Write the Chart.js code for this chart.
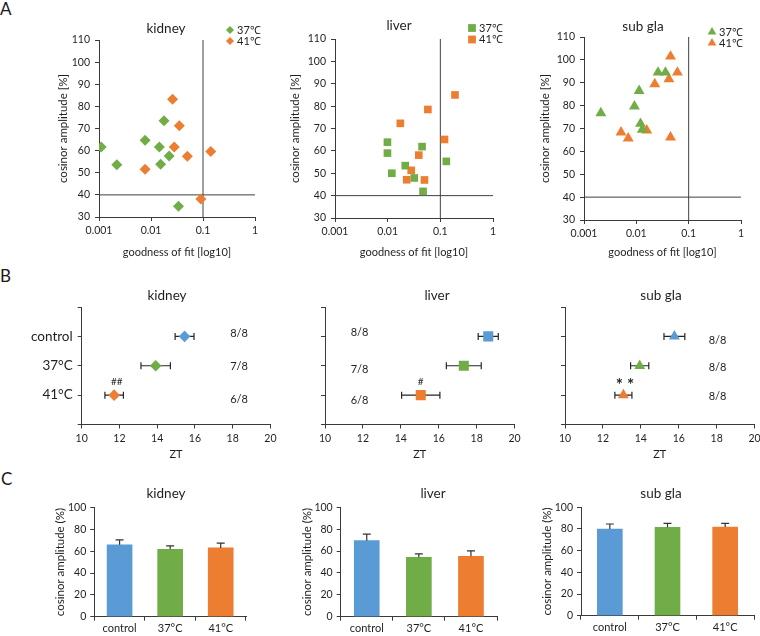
<!DOCTYPE html>
<html><head><meta charset="utf-8">
<script src="https://cdn.jsdelivr.net/npm/chart.js@4.4.1/dist/chart.umd.min.js"></script>
<style>
html,body{margin:0;padding:0;background:#fff;width:760px;height:636px;overflow:hidden;position:relative;font-family:Lato,"Open Sans",sans-serif;}
canvas{position:absolute;}
.lt{position:absolute;font-size:17px;line-height:17px;color:#1a1a1a;}
</style></head><body>
<div class="lt" style="left:0px;top:0px">A</div>
<div class="lt" style="left:0px;top:267px">B</div>
<div class="lt" style="left:1px;top:470px">C</div>
<script>
// ---------------- DATA ----------------
const fitTicks = [0.001, 0.01, 0.1, 1];
const fitCutoff = 0.1;
const ampCutoff = 40;
// Panel A: goodness of fit (x) and cosinor amplitude (y)
const kidneyFit37 = [0.0011, 0.0022, 0.0077, 0.0178, 0.0145, 0.0153, 0.0223, 0.0338];
const kidneyAmp37 = [61.6, 53.6, 64.7, 73.5, 61.6, 53.8, 57.6, 34.9];
const kidneyFit41 = [0.026, 0.035, 0.028, 0.050, 0.0077, 0.141, 0.091];
const kidneyAmp41 = [83.2, 71.2, 61.6, 57.5, 51.6, 59.6, 38.1];
const liverFit37 = [0.0099, 0.0099, 0.012, 0.0216, 0.032, 0.045, 0.047, 0.13];
const liverAmp37 = [63.9, 59.0, 50.0, 53.4, 47.9, 61.9, 41.9, 55.3];
const liverFit41 = [0.0174, 0.058, 0.19, 0.12, 0.039, 0.028, 0.023, 0.050];
const liverAmp41 = [72.3, 78.5, 85.0, 65.1, 58.1, 51.3, 47.1, 47.0];
const subFit37 = [0.0021, 0.0092, 0.0113, 0.012, 0.013, 0.026, 0.036];
const subAmp37 = [76.7, 79.7, 86.5, 72.1, 69.5, 94.5, 94.5];
const subFit41 = [0.045, 0.061, 0.042, 0.0225, 0.0051, 0.007, 0.0158, 0.045];
const subAmp41 = [101.5, 94.5, 91.6, 89.4, 68.3, 65.7, 69.2, 66.1];
const legendA = ['37\u2103', '41\u2103'];
// Panel B: peak phase (ZT) mean and SEM
const groups = ['control', '37\u00B0C', '41\u00B0C'];
const kidneyZT = [15.45, 13.92, 11.72];
const kidneyZTerr = [0.50, 0.78, 0.49];
const liverZT = [18.61, 17.32, 15.05];
const liverZTerr = [0.53, 0.92, 1.01];
const subZT = [15.77, 13.94, 13.08];
const subZTerr = [0.55, 0.48, 0.45];
const kidneyRatio = ['8/8', '7/8', '6/8'];
const liverRatio = ['8/8', '7/8', '6/8'];
const subRatio = ['8/8', '8/8', '8/8'];
// Panel C: cosinor amplitude (%) mean and SEM
const kidneyAmp = [65.8, 61.8, 63.0];
const kidneyAmpErr = [4.6, 3.1, 4.3];
const liverAmp = [69.5, 54.3, 55.2];
const liverAmpErr = [5.9, 3.1, 4.9];
const subAmp = [80.0, 81.5, 81.8];
const subAmpErr = [4.6, 3.7, 3.4];

// ---------------- STYLE ----------------
const BLUE = '#5B9BD5', GREEN = '#70AD47', ORANGE = '#ED7D31';
const TXT = '#1f1f1f', AXC = '#3a3a3a';
const groupColors = [BLUE, GREEN, ORANGE];
Chart.defaults.font.family = 'Lato, "Open Sans", sans-serif';
Chart.defaults.color = TXT;
Chart.defaults.animation = false;
Chart.defaults.events = [];
Chart.defaults.plugins.legend.display = false;
Chart.defaults.plugins.tooltip.enabled = false;

const DECOR = {};
function marker(ctx, style, x, y, r, color) {
  ctx.fillStyle = color; ctx.beginPath();
  if (style === 'rectRot') { ctx.moveTo(x, y - r); ctx.lineTo(x + r, y); ctx.lineTo(x, y + r); ctx.lineTo(x - r, y); }
  else if (style === 'rect') { const s = r * Math.SQRT1_2; ctx.rect(x - s, y - s, 2 * s, 2 * s); }
  else { ctx.moveTo(x, y - r); ctx.lineTo(x + r * 0.866, y + r / 2); ctx.lineTo(x - r * 0.866, y + r / 2); }
  ctx.closePath(); ctx.fill();
}
const decoPlugin = {
  id: 'deco',
  beforeDatasetsDraw(chart) {
    const d = DECOR[chart.canvas.id]; if (!d || !d.errX) return;
    const ctx = chart.ctx, xs = chart.scales.x, ys = chart.scales.y;
    const pts = chart.data.datasets[0].data;
    ctx.save(); ctx.strokeStyle = '#262626'; ctx.lineWidth = 1.2;
    pts.forEach((p, i) => {
      const e = d.errX[i];
      const xa = xs.getPixelForValue(p.x - e), xb = xs.getPixelForValue(p.x + e), y = ys.getPixelForValue(p.y);
      ctx.beginPath();
      ctx.moveTo(xa, y); ctx.lineTo(xb, y);
      ctx.moveTo(xa, y - 3.5); ctx.lineTo(xa, y + 3.5);
      ctx.moveTo(xb, y - 3.5); ctx.lineTo(xb, y + 3.5);
      ctx.stroke();
    });
    ctx.restore();
  },
  afterDatasetsDraw(chart) {
    const d = DECOR[chart.canvas.id]; if (!d || !d.errY) return;
    const ctx = chart.ctx, ys = chart.scales.y;
    const vals = chart.data.datasets[0].data;
    const meta = chart.getDatasetMeta(0);
    ctx.save(); ctx.strokeStyle = '#333'; ctx.lineWidth = 1.2;
    meta.data.forEach((bar, i) => {
      const yv = ys.getPixelForValue(vals[i]), ye = ys.getPixelForValue(vals[i] + d.errY[i]);
      ctx.beginPath();
      ctx.moveTo(bar.x, yv); ctx.lineTo(bar.x, ye);
      ctx.moveTo(bar.x - 4, ye); ctx.lineTo(bar.x + 4, ye);
      ctx.stroke();
    });
    ctx.restore();
  },
  afterDraw(chart) {
    const d = DECOR[chart.canvas.id]; if (!d) return;
    const ctx = chart.ctx, ox = d.off[0], oy = d.off[1];
    ctx.save();
    ctx.textBaseline = 'middle';
    (d.texts || []).forEach(t => {
      ctx.font = (t.weight || 'normal') + ' ' + t.size + 'px Lato, "Open Sans", sans-serif';
      ctx.fillStyle = TXT; ctx.textAlign = t.align || 'center';
      ctx.fillText(t.t, t.x - ox, t.y - oy);
    });
    (d.legend || []).forEach(l => {
      marker(ctx, l.style, l.x - ox, l.y - oy, l.r, l.color);
      ctx.font = '11px Lato, "Open Sans", sans-serif';
      ctx.fillStyle = TXT; ctx.textAlign = 'left';
      ctx.fillText(l.t, l.tx - ox, l.y - oy);
    });
    ctx.restore();
  }
};
Chart.register(decoPlugin);

function makeCanvas(id, rect) {
  const c = document.createElement('canvas');
  c.id = id; c.width = rect[2]; c.height = rect[3];
  c.style.left = rect[0] + 'px'; c.style.top = rect[1] + 'px';
  c.style.width = rect[2] + 'px'; c.style.height = rect[3] + 'px';
  document.body.appendChild(c);
  return c;
}
function pad(rect, area, yW, xH) {
  return {left: area[0] - rect[0] - yW, top: area[1] - rect[1], right: rect[0] + rect[2] - area[2], bottom: rect[1] + rect[3] - area[3] - xH};
}
function clean(o) {
  Object.keys(o).forEach(k => { if (o[k] === undefined) delete o[k]; });
  return o;
}
function axis(o) {
  const a = clean({
    type: o.type || 'linear', min: o.min, max: o.max,
    border: {display: true, color: AXC, width: 1},
    grid: {display: true, drawOnChartArea: false, drawTicks: true, tickLength: 4, color: AXC},
    ticks: clean({font: {size: o.fs}, color: TXT, padding: o.pad, stepSize: o.step, autoSkip: false, maxRotation: 0, minRotation: 0, callback: o.cb}),
    title: o.title ? {display: true, text: o.title, font: {size: o.tfs}, color: TXT, padding: {top: 0, bottom: 0}} : {display: false},
    afterFit: o.fit, afterBuildTicks: o.abt
  });
  if (o.reverse) a.reverse = true;
  if (o.type === 'category') { a.offset = true; a.grid.offset = true; }
  return a;
}
const zip = (xs, ys) => xs.map((x, i) => ({x, y: ys[i]}));

// ---------------- PANEL A ----------------
function panelA(id, rect, area, yW, xH, style, r, f37, a37, f41, a41, deco) {
  const c = makeCanvas(id, rect);
  DECOR[id] = Object.assign({off: [rect[0], rect[1]]}, deco);
  new Chart(c, {
    type: 'scatter',
    data: {datasets: [
      {label: legendA[0], data: zip(f37, a37), pointStyle: style, pointRadius: r, backgroundColor: GREEN, borderWidth: 0},
      {label: legendA[1], data: zip(f41, a41), pointStyle: style, pointRadius: r, backgroundColor: ORANGE, borderWidth: 0},
      {label: 'fit cutoff', data: [{x: fitCutoff, y: 30}, {x: fitCutoff, y: 110}], showLine: true, pointRadius: 0, borderColor: '#404040', borderWidth: 1},
      {label: 'amplitude cutoff', data: [{x: fitTicks[0], y: ampCutoff}, {x: fitTicks[3], y: ampCutoff}], showLine: true, pointRadius: 0, borderColor: '#404040', borderWidth: 1}
    ]},
    options: {
      responsive: false, devicePixelRatio: 1,
      layout: {padding: pad(rect, area, yW, xH)},
      scales: {
        x: axis({type: 'logarithmic', min: 0.001, max: 1, fs: 10.5, pad: 3, title: 'goodness of fit [log10]', tfs: 11,
          abt: s => { s.ticks = fitTicks.map(v => ({value: v})); }, cb: v => String(v), fit: s => { s.height = xH; }}),
        y: axis({min: 30, max: 110, step: 10, fs: 10.5, pad: 5, title: 'cosinor amplitude [%]', tfs: 11.5, fit: s => { s.width = yW; }})
      }
    }
  });
}
panelA('aKidney', [40, 10, 230, 262], [99, 40, 255, 217], 42.6, 41.6, 'rectRot', 5.5,
  kidneyFit37, kidneyAmp37, kidneyFit41, kidneyAmp41,
  {texts: [{t: 'kidney', x: 166, y: 29, size: 13.5}],
   legend: [{style: 'rectRot', color: GREEN, x: 230, y: 30, r: 4, t: legendA[0], tx: 237},
            {style: 'rectRot', color: ORANGE, x: 230, y: 41, r: 4, t: legendA[1], tx: 237}]});
panelA('aLiver', [280, 10, 235, 262], [335, 39, 493, 218], 46.6, 40.6, 'rect', 5.4,
  liverFit37, liverAmp37, liverFit41, liverAmp41,
  {texts: [{t: 'liver', x: 399, y: 26, size: 13.5}],
   legend: [{style: 'rect', color: GREEN, x: 472, y: 28, r: 5.5, t: legendA[0], tx: 479},
            {style: 'rect', color: ORANGE, x: 472, y: 39.5, r: 5.5, t: legendA[1], tx: 479}]});
panelA('aSub', [525, 10, 235, 262], [584, 37, 741, 220], 45.6, 38.6, 'triangle', 6.3,
  subFit37, subAmp37, subFit41, subAmp41,
  {texts: [{t: 'sub gla', x: 643, y: 27, size: 13.5}],
   legend: [{style: 'triangle', color: GREEN, x: 712, y: 32, r: 5, t: legendA[0], tx: 719},
            {style: 'triangle', color: ORANGE, x: 712, y: 43, r: 5, t: legendA[1], tx: 719}]});

// ---------------- PANEL B ----------------
function panelB(id, rect, area, yW, style, r, zt, err, showLabels, deco) {
  const c = makeCanvas(id, rect);
  DECOR[id] = Object.assign({off: [rect[0], rect[1]], errX: err}, deco);
  const xH = 454 + 6.6 - area[3];
  new Chart(c, {
    type: 'scatter',
    data: {datasets: [
      {label: 'ZT', data: zt.map((v, i) => ({x: v, y: i + 1})), pointStyle: style, pointRadius: r,
       backgroundColor: groupColors, borderWidth: 0}
    ]},
    options: {
      responsive: false, devicePixelRatio: 1,
      layout: {padding: pad(rect, area, yW, xH)},
      scales: {
        x: axis({min: 10, max: 20, step: 2, fs: 10.5, pad: 3.5, title: 'ZT', tfs: 11, fit: s => { s.height = xH; }}),
        y: axis({min: 0, max: 4, step: 1, reverse: true, fs: 13.5, pad: 5,
          cb: v => (showLabels && v >= 1 && v <= 3) ? groups[v - 1] : '', fit: s => { s.width = yW; }})
      }
    }
  });
}
panelB('bKidney', [15, 280, 265, 185], [81.7, 307, 271.3, 424.5], 55, 'rectRot', 5.8, kidneyZT, kidneyZTerr, true,
  {texts: [{t: 'kidney', x: 167, y: 296, size: 13.5},
           {t: kidneyRatio[0], x: 239, y: 333, size: 11}, {t: kidneyRatio[1], x: 239, y: 366, size: 11}, {t: kidneyRatio[2], x: 239, y: 399, size: 11},
           {t: '##', x: 116.7, y: 382, size: 10}]});
panelB('bLiver', [285, 280, 240, 185], [325, 307, 514.6, 424.5], 10, 'rect', 7.1, liverZT, liverZTerr, false,
  {texts: [{t: 'liver', x: 437, y: 296, size: 13.5},
           {t: liverRatio[0], x: 359.5, y: 332, size: 11}, {t: liverRatio[1], x: 359.5, y: 369, size: 11}, {t: liverRatio[2], x: 359.5, y: 400, size: 11},
           {t: '#', x: 420.7, y: 382, size: 10}]});
panelB('bSub', [525, 280, 245, 185], [565, 307, 754.6, 424.5], 10, 'triangle', 6.3, subZT, subZTerr, false,
  {texts: [{t: 'sub gla', x: 661, y: 296, size: 13.5},
           {t: subRatio[0], x: 717.5, y: 340, size: 11}, {t: subRatio[1], x: 717.5, y: 367, size: 11}, {t: subRatio[2], x: 717.5, y: 396, size: 11},
           {t: '* *', x: 625, y: 386, size: 17, weight: 'bold'}]});

// ---------------- PANEL C ----------------
function panelC(id, rect, area, vals, err, deco) {
  const c = makeCanvas(id, rect);
  DECOR[id] = Object.assign({off: [rect[0], rect[1]], errY: err}, deco);
  const yW = 40.6, xH = rect[1] + rect[3] - area[3];
  new Chart(c, {
    type: 'bar',
    data: {labels: groups, datasets: [
      {label: 'cosinor amplitude', data: vals, backgroundColor: groupColors, borderWidth: 0, barThickness: 25}
    ]},
    options: {
      responsive: false, devicePixelRatio: 1,
      layout: {padding: pad(rect, area, yW, xH)},
      scales: {
        x: axis({type: 'category', fs: 11, pad: 1, fit: s => { s.height = xH; }}),
        y: axis({min: 0, max: 100, step: 20, fs: 10.5, pad: 4, title: 'cosinor amplitude (%)', tfs: 11.5, fit: s => { s.width = yW; }})
      }
    }
  });
}
panelC('cKidney', [40, 480, 225, 156], [94.3, 507.5, 246, 616.7], kidneyAmp, kidneyAmpErr,
  {texts: [{t: 'kidney', x: 166, y: 494, size: 13.5}]});
panelC('cLiver', [290, 480, 225, 156], [340.7, 507.3, 497, 616.7], liverAmp, liverAmpErr,
  {texts: [{t: 'liver', x: 433, y: 494, size: 13.5}]});
panelC('cSub', [530, 480, 235, 156], [581, 507.3, 754, 615.7], subAmp, subAmpErr,
  {texts: [{t: 'sub gla', x: 661, y: 494, size: 13.5}]});
</script>
</body></html>
